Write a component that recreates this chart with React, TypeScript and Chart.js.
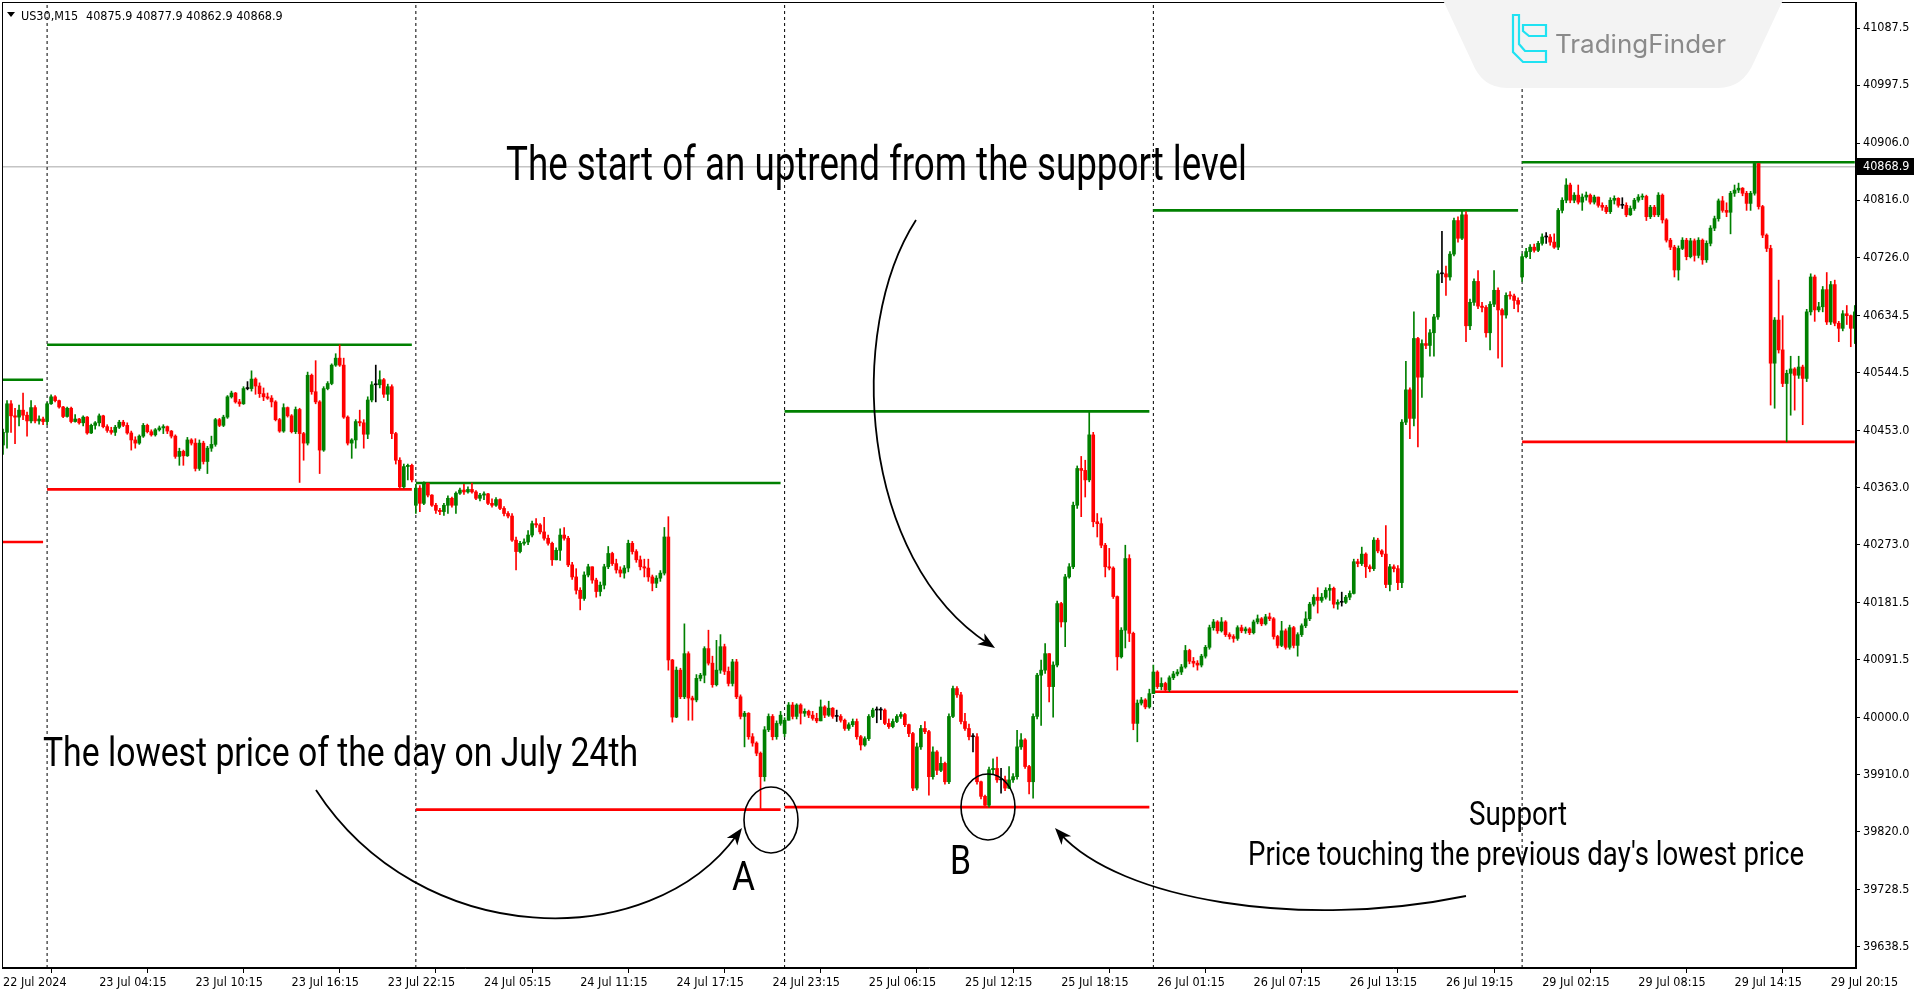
import React, { useEffect, useRef } from "react";
import { Chart, registerables } from "chart.js";

Chart.register(...registerables);

// ---------- DATA ----------
// Each candle: [close, high, low]; open = previous close unless listed in gapOpens.
const firstOpen = 40430;
const gapOpens: [number, number][] = [[103, 40335], [195, 39975], [379, 40695]];

const jul22Bars: number[][] = [
  [40450,40455,40415],[40495,40500,40425],[40476,40500,40450],[40474,40488,40432],[40485,40493,40460],
  [40477,40512,40470],[40468,40482,40444],[40489,40500,40465],[40468,40492,40465],[40471,40476,40463],
  [40467,40474,40462],
];
const jul23Bars: number[][] = [
  [40495,40497,40462],[40506,40509,40494],[40500,40508,40498],[40490,40501,40488],[40475,40491,40473],
  [40488,40490,40474],[40467,40490,40465],[40471,40478,40466],[40465,40472,40463],[40474,40476,40460],
  [40449,40475,40447],[40461,40463,40448],[40465,40467,40455],[40476,40479,40460],[40459,40477,40457],
  [40453,40462,40450],[40450,40458,40447],[40458,40461,40445],[40466,40469,40456],[40461,40469,40459],
  [40449,40465,40447],[40438,40452,40422],[40433,40443,40425],[40444,40446,40431],[40461,40464,40442],
  [40451,40463,40449],[40446,40454,40444],[40454,40456,40444],[40457,40460,40452],[40459,40462,40448],
  [40452,40460,40448],[40444,40453,40441],[40412,40446,40409],[40420,40425,40398],[40413,40422,40398],
  [40438,40442,40412],[40433,40440,40430],[40393,40440,40389],[40433,40438,40390],[40404,40436,40400],
  [40425,40428,40385],[40431,40444,40420],[40470,40472,40428],[40461,40472,40459],[40474,40477,40459],
  [40506,40508,40472],[40512,40515,40504],[40498,40513,40496],[40495,40502,40491],[40519,40522,40494],
  [40519,40530,40517],[40534,40547,40515],[40523,40536,40510],[40511,40528,40505],[40506,40520,40500],
  [40504,40512,40502],[40498,40508,40490],[40470,40500,40468],[40452,40472,40450],[40489,40495,40450],
  [40476,40490,40474],[40451,40478,40449],[40486,40490,40448],[40448,40488,40371],[40433,40450,40406],
  [40540,40545,40430],[40514,40542,40510],[40498,40563,40495],[40422,40500,40385],[40519,40522,40420],
  [40527,40530,40517],[40556,40558,40525],[40567,40574,40554],[40556,40588,40554],[40474,40567,40472],
  [40433,40476,40430],[40438,40440,40409],[40467,40470,40425],[40465,40485,40460],[40447,40470,40425],
  [40501,40506,40440],[40525,40530,40498],[40525,40556,40498],[40533,40547,40520],[40510,40535,40505],
  [40522,40526,40500],[40448,40525,40440],[40406,40450,40400],[40364,40410,40360],[40396,40400,40362],
  [40398,40400,40375],[40375,40400,40372],
];
const jul24Bars: number[][] = [
  [40362,40368,40322],[40338,40366,40325],[40370,40372,40336],[40351,40370,40348],[40335,40352,40333],
  [40327,40338,40322],[40325,40330,40320],[40335,40338,40319],[40346,40350,40322],[40335,40348,40332],
  [40354,40356,40322],[40359,40362,40352],[40356,40368,40352],[40360,40364,40354],[40356,40370,40354],
  [40346,40358,40344],[40351,40354,40342],[40353,40356,40344],[40338,40354,40336],[40335,40345,40332],
  [40344,40347,40333],[40330,40345,40328],[40322,40333,40318],[40318,40325,40315],[40280,40322,40278],
  [40262,40285,40233],[40275,40278,40260],[40277,40282,40272],[40288,40295,40273],[40306,40310,40285],
  [40304,40314,40300],[40293,40306,40290],[40283,40316,40280],[40275,40288,40272],[40249,40277,40240],
  [40264,40268,40250],[40288,40298,40248],[40283,40300,40280],[40241,40286,40238],[40222,40245,40218],
  [40201,40235,40195],[40188,40205,40170],[40225,40230,40185],[40238,40242,40222],[40217,40238,40212],
  [40199,40220,40190],[40209,40214,40192],[40238,40242,40203],[40259,40270,40235],[40243,40261,40240],
  [40233,40250,40228],[40228,40238,40222],[40236,40240,40220],[40275,40280,40230],[40262,40278,40258],
  [40249,40265,40245],[40238,40255,40233],[40236,40250,40222],[40222,40250,40215],[40212,40225,40200],
  [40220,40224,40205],[40228,40232,40215],[40285,40300,40225],[40091,40317,40075],[40001,40092,39993],
  [40075,40080,40000],[40033,40078,40030],[40101,40148,40030],[40031,40104,39996],[40028,40034,39996],
  [40062,40068,40025],[40067,40070,40058],[40109,40112,40055],[40086,40138,40083],[40052,40097,40048],
  [40075,40122,40050],[40112,40131,40070],[40073,40116,40068],[40054,40080,40050],[40088,40092,40050],
  [40033,40092,40030],[40002,40036,39998],[40007,40010,39954],[39970,40008,39966],[39960,39975,39955],
  [39944,39962,39940],[39907,39946,39855],[39981,39986,39900],[40002,40006,39978],[39970,40005,39965],
  [39991,39995,39966],[40004,40010,39988],
];
const jul25Bars: number[][] = [
  [39996,40000,39970],[40020,40024,39998],[40002,40024,39998],[40020,40022,39998],[40007,40022,39990],
  [40010,40014,40002],[40004,40012,40000],[39999,40010,39996],[39995,40007,39992],[40017,40028,39995],
  [40004,40019,40000],[40015,40026,40002],[40002,40016,39999],[40002,40012,39994],[39996,40005,39993],
  [39983,39998,39980],[39989,39992,39980],[39994,39998,39986],[39970,39998,39966],[39957,39972,39949],
  [39967,39970,39955],[40002,40005,39964],[40012,40015,40000],[40012,40017,39992],[40012,40016,39997],
  [39991,40014,39989],[39986,39998,39983],[39994,39998,39984],[40002,40005,39992],[40005,40009,39999],
  [39989,40007,39986],[39975,39990,39970],[39889,39977,39885],[39954,39960,39886],[39983,39988,39950],
  [39978,39994,39975],[39907,39980,39878],[39946,39954,39903],[39917,39948,39910],[39928,39938,39915],
  [39899,39930,39895],[40002,40006,39896],[40046,40050,40000],[40036,40049,40032],[39994,40040,39990],
  [39983,40007,39980],[39970,39990,39965],[39970,39975,39946],[39899,39975,39895],[39876,39900,39872],
  [39862,39878,39859],[39918,39922,39859],[39920,39935,39910],[39902,39938,39898],[39902,39920,39881],
  [39889,39908,39885],[39902,39923,39888],[39907,39912,39898],[39954,39980,39903],[39965,39975,39950],
  [39923,39967,39920],[39899,39925,39880],[40002,40006,39873],[40067,40070,39998],[40075,40091,39988],
  [40101,40117,40070],[40049,40098,40025],[40083,40088,40001],[40180,40184,40080],[40151,40182,40143],
  [40222,40226,40112],[40238,40243,40220],[40335,40340,40235],[40393,40397,40330],[40390,40412,40317],
  [40375,40406,40348],[40446,40483,40372],[40309,40450,40301],[40306,40322,40285],[40272,40315,40268],
  [40238,40275,40222],[40236,40267,40233],[40191,40238,40188],[40096,40192,40075],[40138,40142,40094],
  [40251,40272,40110],[40133,40257,40120],[39991,40135,39981],[40023,40028,39962],[40028,40032,40020],
  [40017,40030,40014],[40038,40045,40015],
];
const jul26Bars: number[][] = [
  [40072,40083,40047],[40049,40074,40046],[40054,40063,40044],[40044,40056,40041],[40063,40066,40041],
  [40069,40073,40060],[40072,40076,40066],[40080,40084,40068],[40106,40114,40078],[40089,40108,40085],
  [40086,40095,40080],[40083,40090,40075],[40097,40100,40080],[40111,40114,40094],[40142,40146,40108],
  [40151,40155,40138],[40137,40153,40133],[40151,40158,40135],[40131,40153,40128],[40128,40134,40124],
  [40125,40131,40119],[40142,40145,40122],[40137,40146,40134],[40140,40143,40133],[40134,40142,40131],
  [40151,40154,40132],[40156,40162,40148],[40148,40158,40145],[40159,40163,40146],[40156,40165,40153],
  [40128,40158,40124],[40114,40130,40110],[40137,40152,40112],[40111,40140,40108],[40142,40146,40108],
  [40114,40144,40110],[40131,40134,40097],[40145,40148,40128],[40156,40167,40142],[40179,40182,40153],
  [40190,40194,40176],[40185,40205,40165],[40190,40196,40182],[40201,40205,40187],[40204,40210,40185],
  [40179,40206,40173],[40182,40186,40171],[40182,40198,40176],[40190,40193,40180],[40196,40200,40186],
  [40246,40250,40195],[40243,40250,40238],[40258,40269,40240],[40238,40260,40221],[40235,40241,40230],
  [40280,40284,40232],[40263,40283,40260],[40258,40265,40254],[40210,40303,40205],[40238,40242,40200],
  [40235,40241,40230],[40213,40240,40202],[40466,40470,40205],[40517,40562,40462],[40472,40520,40440],
  [40598,40640,40460],[40537,40600,40427],[40590,40596,40505],[40587,40630,40582],[40607,40612,40570],
  [40632,40636,40570],[40700,40705,40628],[40700,40767,40686],[40695,40712,40666],[40731,40735,40690],
  [40784,40788,40728],[40756,40790,40750],[40793,40800,40754],[40618,40798,40593],[40655,40660,40612],
  [40688,40692,40650],[40649,40705,40645],[40647,40655,40640],[40607,40650,40600],[40652,40656,40580],
  [40674,40705,40648],[40643,40678,40567],[40635,40645,40553],[40666,40670,40630],[40665,40672,40660],
  [40658,40668,40645],[40652,40662,40640],
];
const jul29Bars: number[][] = [
  [40727,40731,40688],[40735,40740,40725],[40742,40746,40724],[40737,40747,40734],[40748,40751,40735],
  [40758,40763,40745],[40758,40765,40748],[40750,40762,40745],[40742,40763,40740],[40800,40803,40738],
  [40816,40820,40796],[40840,40850,40812],[40816,40843,40812],[40824,40828,40812],[40813,40840,40810],
  [40821,40826,40800],[40824,40829,40816],[40813,40826,40810],[40821,40824,40810],[40808,40820,40805],
  [40805,40812,40800],[40798,40808,40795],[40816,40820,40795],[40819,40823,40810],[40808,40820,40805],
  [40808,40820,40803],[40793,40812,40790],[40803,40807,40792],[40816,40819,40800],[40821,40825,40813],
  [40822,40826,40817],[40790,40824,40784],[40805,40808,40787],[40793,40808,40790],[40824,40828,40790],
  [40785,40826,40780],[40753,40787,40750],[40742,40756,40738],[40706,40745,40695],[40740,40744,40690],
  [40753,40757,40738],[40727,40756,40722],[40752,40756,40725],[40729,40755,40720],[40753,40757,40725],
  [40722,40755,40715],[40748,40752,40718],[40772,40776,40744],[40787,40791,40768],[40815,40818,40783],
  [40800,40822,40797],[40797,40812,40790],[40827,40830,40763],[40832,40840,40822],[40835,40843,40828],
  [40827,40836,40823],[40811,40830,40800],[40827,40830,40800],[40874,40877,40824],[40806,40870,40802],
  [40761,40808,40757],[40740,40763,40735],[40559,40745,40493],[40627,40631,40488],[40580,40690,40575],
  [40527,40634,40522],[40543,40548,40435],[40550,40570,40477],[40540,40552,40485],[40553,40570,40535],
  [40535,40556,40462],[40640,40644,40530],[40695,40700,40635],[40643,40698,40625],[40648,40655,40640],
  [40675,40680,40640],[40624,40702,40620],[40683,40688,40620],[40622,40690,40618],[40614,40625,40593],
  [40637,40642,40610],[40634,40650,40620],[40614,40635,40585],[40640,40650,40590],
];

const dayBars = [jul22Bars, jul23Bars, jul24Bars, jul25Bars, jul26Bars, jul29Bars];
const dayHighs = [40533, 40588, 40370, 40483, 40800, 40876];
const dayLows = [40277, 40360, 39855, 39859, 40041, 40435];

const currentPrice = 40868.9;
const headerSymbol = "US30,M15";
const headerOHLC = "40875.9 40877.9 40862.9 40868.9";

const yTicks = [41087.5, 40997.5, 40906.0, 40816.0, 40726.0, 40634.5, 40544.5, 40453.0, 40363.0,
  40273.0, 40181.5, 40091.5, 40000.0, 39910.0, 39820.0, 39728.5, 39638.5];
const xTickIdx = [0, 24, 48, 72, 96, 120, 144, 168, 192, 216, 240, 264, 288, 312, 336, 360, 384, 408, 432, 456];
const xTickLabels = ["22 Jul 2024", "23 Jul 04:15", "23 Jul 10:15", "23 Jul 16:15", "23 Jul 22:15",
  "24 Jul 05:15", "24 Jul 11:15", "24 Jul 17:15", "24 Jul 23:15", "25 Jul 06:15", "25 Jul 12:15",
  "25 Jul 18:15", "26 Jul 01:15", "26 Jul 07:15", "26 Jul 13:15", "26 Jul 19:15", "29 Jul 02:15",
  "29 Jul 08:15", "29 Jul 14:15", "29 Jul 20:15"];

const noteTop = "The start of an uptrend from the support level";
const noteLow = "The lowest price of the day on July 24th";
const noteSupport1 = "Support";
const noteSupport2 = "Price touching the previous day's lowest price";

// ---------- STYLE ----------
const X_MIN = -0.25, X_MAX = 462.3, Y_MIN = 39605.3, Y_MAX = 41128.6;
const GREEN = "#008000";
const RED = "#ff0000";
const AXIS_FAMILY = "'DejaVu Sans Condensed', 'DejaVu Sans', Tahoma, sans-serif";
const AXIS_FONT = { family: AXIS_FAMILY, size: 12.5 };

function buildCandles() {
  const out: { i: number; o: number; h: number; l: number; c: number }[] = [];
  let prev = firstOpen;
  let i = 0;
  dayBars.forEach((day) => {
    day.forEach(([c, h, l]) => {
      const g = gapOpens.find((x) => x[0] === i);
      const o = g ? g[1] : prev;
      out.push({ i, o, c, h: Math.max(h, o, c), l: Math.min(l, o, c) });
      prev = c;
      i++;
    });
  });
  return out;
}

function fitText(ctx: CanvasRenderingContext2D, text: string, left: number, baseline: number, size: number, width: number) {
  ctx.font = `${size}px Roboto, 'Noto Sans', sans-serif`;
  const w = ctx.measureText(text).width;
  ctx.save();
  ctx.translate(left, baseline);
  ctx.scale(width / w, 1);
  ctx.textAlign = "left";
  ctx.textBaseline = "alphabetic";
  ctx.fillText(text, 0, 0);
  ctx.restore();
}

function drawArrow(ctx: CanvasRenderingContext2D, p: number[][]) {
  const [p0, p1, p2, p3] = p;
  const ang = Math.atan2(p3[1] - p2[1], p3[0] - p2[0]);
  const L = 17, W = 6.5;
  ctx.beginPath();
  ctx.moveTo(p0[0], p0[1]);
  ctx.bezierCurveTo(p1[0], p1[1], p2[0], p2[1], p3[0] - 8 * Math.cos(ang), p3[1] - 8 * Math.sin(ang));
  ctx.stroke();
  const bx = p3[0] - L * Math.cos(ang), by = p3[1] - L * Math.sin(ang);
  ctx.beginPath();
  ctx.moveTo(p3[0], p3[1]);
  ctx.lineTo(bx + W * Math.sin(ang), by - W * Math.cos(ang));
  ctx.lineTo(p3[0] - 0.72 * L * Math.cos(ang), p3[1] - 0.72 * L * Math.sin(ang));
  ctx.lineTo(bx - W * Math.sin(ang), by + W * Math.cos(ang));
  ctx.closePath();
  ctx.fill();
}

const decorPlugin = {
  id: "decor",
  afterDraw(chart: any) {
    const ctx: CanvasRenderingContext2D = chart.ctx;
    const a = chart.chartArea;
    ctx.save();
    // frame
    ctx.strokeStyle = "#000";
    ctx.lineWidth = 1;
    ctx.strokeRect(Math.round(a.left) + 0.5, Math.round(a.top) + 0.5, Math.round(a.right - a.left) - 1, Math.round(a.bottom - a.top) - 1);

    // current price label
    const py = Math.round(chart.scales.y.getPixelForValue(currentPrice));
    ctx.fillStyle = "#000";
    ctx.fillRect(a.right + 1, py - 9, 57, 17);
    ctx.fillStyle = "#fff";
    ctx.font = `12.5px ${AXIS_FAMILY}`;
    ctx.textBaseline = "middle";
    ctx.textAlign = "left";
    ctx.fillText(currentPrice.toFixed(1), a.right + 7, py);

    // header
    ctx.fillStyle = "#000";
    ctx.beginPath();
    ctx.moveTo(7, 12); ctx.lineTo(15, 12); ctx.lineTo(11, 17); ctx.closePath(); ctx.fill();
    ctx.textBaseline = "alphabetic";
    ctx.font = `12.5px ${AXIS_FAMILY}`;
    ctx.fillText(headerSymbol, 21, 20);
    ctx.fillText(headerOHLC, 86, 20);

    // watermark
    ctx.fillStyle = "#f3f3f3";
    ctx.beginPath();
    ctx.moveTo(1443, 0); ctx.lineTo(1783, 0); ctx.lineTo(1754, 62);
    ctx.quadraticCurveTo(1743, 88, 1718, 88);
    ctx.lineTo(1507, 88);
    ctx.quadraticCurveTo(1482, 88, 1472, 62);
    ctx.closePath(); ctx.fill();
    ctx.strokeStyle = "#1fe2f2";
    ctx.lineWidth = 2.2;
    ctx.lineJoin = "miter";
    ctx.beginPath();
    ctx.moveTo(1513, 15); ctx.lineTo(1519, 15); ctx.lineTo(1519, 44); ctx.lineTo(1525, 51);
    ctx.lineTo(1546, 51); ctx.lineTo(1546, 62); ctx.lineTo(1523, 62); ctx.lineTo(1513, 52); ctx.closePath();
    ctx.stroke();
    ctx.beginPath();
    ctx.moveTo(1523, 25); ctx.lineTo(1546, 25); ctx.lineTo(1546, 36); ctx.lineTo(1529, 36); ctx.lineTo(1523, 31); ctx.closePath();
    ctx.stroke();
    ctx.fillStyle = "#8a8a8a";
    ctx.font = "25px Inter, 'Noto Sans', sans-serif";
    {
      const t = "TradingFinder";
      const w = ctx.measureText(t).width;
      ctx.save(); ctx.translate(1555, 53); ctx.scale(171 / w, 1); ctx.fillText(t, 0, 0); ctx.restore();
    }

    // annotations
    ctx.fillStyle = "#000";
    fitText(ctx, noteTop, 506, 180, 48, 741);
    fitText(ctx, noteLow, 43, 766, 40, 595);
    fitText(ctx, noteSupport1, 1469, 825, 34, 98);
    fitText(ctx, noteSupport2, 1248, 865, 34, 556);
    fitText(ctx, "A", 732, 890, 40, 23);
    fitText(ctx, "B", 950, 874, 40, 21);

    ctx.strokeStyle = "#000";
    ctx.lineWidth = 1.6;
    ctx.beginPath(); ctx.ellipse(771, 820, 27, 33, 0, 0, Math.PI * 2); ctx.stroke();
    ctx.beginPath(); ctx.ellipse(988, 807, 27, 33, 0, 0, Math.PI * 2); ctx.stroke();

    ctx.lineWidth = 1.8;
    drawArrow(ctx, [[316, 790], [420, 950], [650, 955], [742, 828]]);
    drawArrow(ctx, [[1466, 896], [1300, 930], [1120, 900], [1055, 828]]);
    drawArrow(ctx, [[916, 220], [845, 330], [860, 560], [995, 648]]);
    ctx.restore();
  },
};

export default function App() {
  const ref = useRef<HTMLCanvasElement | null>(null);
  useEffect(() => {
    if (!ref.current) return;
    const candles = buildCandles();
    const colorOf = (k: { o: number; c: number }) => (k.c > k.o ? GREEN : k.c < k.o ? RED : "#000");
    const datasets: any[] = [];
    datasets.push({
      type: "bar", label: "bodies", order: 0, grouped: false,
      data: candles.map((k) => ({ x: k.i, y: [k.o, k.c] })),
      backgroundColor: candles.map(colorOf), borderWidth: 0, barThickness: 3, minBarLength: 1,
    });
    datasets.push({
      type: "bar", label: "wicks", order: 1, grouped: false,
      data: candles.map((k) => ({ x: k.i, y: [k.l, k.h] })),
      backgroundColor: candles.map(colorOf), borderWidth: 0, barThickness: 1,
    });
    let start = 0;
    dayBars.forEach((day, d) => {
      const end = start + day.length - 1;
      datasets.push({
        type: "line", order: 2, data: [{ x: start, y: dayHighs[d] }, { x: end, y: dayHighs[d] }],
        borderColor: GREEN, borderWidth: 2.6, pointRadius: 0,
      });
      datasets.push({
        type: "line", order: 2, data: [{ x: start, y: dayLows[d] }, { x: end, y: dayLows[d] }],
        borderColor: RED, borderWidth: 2.6, pointRadius: 0,
      });
      if (d > 0) {
        datasets.push({
          type: "line", order: 3, data: [{ x: start, y: Y_MIN }, { x: start, y: Y_MAX }],
          borderColor: "#000", borderWidth: 1, borderDash: [3, 3], pointRadius: 0,
        });
      }
      start += day.length;
    });
    datasets.push({
      type: "line", order: 4, data: [{ x: X_MIN, y: currentPrice }, { x: X_MAX, y: currentPrice }],
      borderColor: "#c4c4c4", borderWidth: 1.4, pointRadius: 0,
    });

    const chart = new Chart(ref.current, {
      type: "bar",
      data: { datasets },
      options: {
        animation: false,
        responsive: false,
        devicePixelRatio: 1,
        events: [],
        layout: { padding: { left: 2, top: 2, right: 0, bottom: 0 } },
        plugins: { legend: { display: false }, tooltip: { enabled: false } },
        scales: {
          x: {
            type: "linear", min: X_MIN, max: X_MAX, offset: false,
            grid: { drawOnChartArea: false, drawTicks: true, tickLength: 5, tickColor: "#000", color: "#000" },
            border: { display: true, color: "#000", width: 1 },
            ticks: {
              autoSkip: false, maxRotation: 0, minRotation: 0, align: "start", padding: 2,
              color: "#000", font: AXIS_FONT,
              callback: (v: any) => {
                const k = xTickIdx.indexOf(Number(v));
                return k >= 0 ? xTickLabels[k] : "";
              },
            },
            afterBuildTicks: (s: any) => { s.ticks = xTickIdx.map((v) => ({ value: v })); },
            afterFit: (s: any) => { s.height = 29; s.paddingLeft = 0; s.paddingRight = 0; },
          },
          y: {
            type: "linear", position: "right", min: Y_MIN, max: Y_MAX,
            grid: { drawOnChartArea: false, drawTicks: true, tickLength: 4, tickColor: "#000", color: "#000" },
            border: { display: true, color: "#000", width: 1 },
            ticks: { padding: 3, color: "#000", font: AXIS_FONT, callback: (v: any) => Number(v).toFixed(1) },
            afterBuildTicks: (s: any) => { s.ticks = yTicks.map((v) => ({ value: v })); },
            afterFit: (s: any) => { s.width = 64; s.paddingTop = 0; s.paddingBottom = 0; },
          },
        },
      } as any,
      plugins: [decorPlugin],
    });
    return () => chart.destroy();
  }, []);

  return (
    <div style={{ position: "absolute", left: 0, top: 0, width: 1920, height: 997, background: "#fff" }}>
      <canvas ref={ref} width={1920} height={997} style={{ display: "block", width: 1920, height: 997 }} />
    </div>
  );
}
